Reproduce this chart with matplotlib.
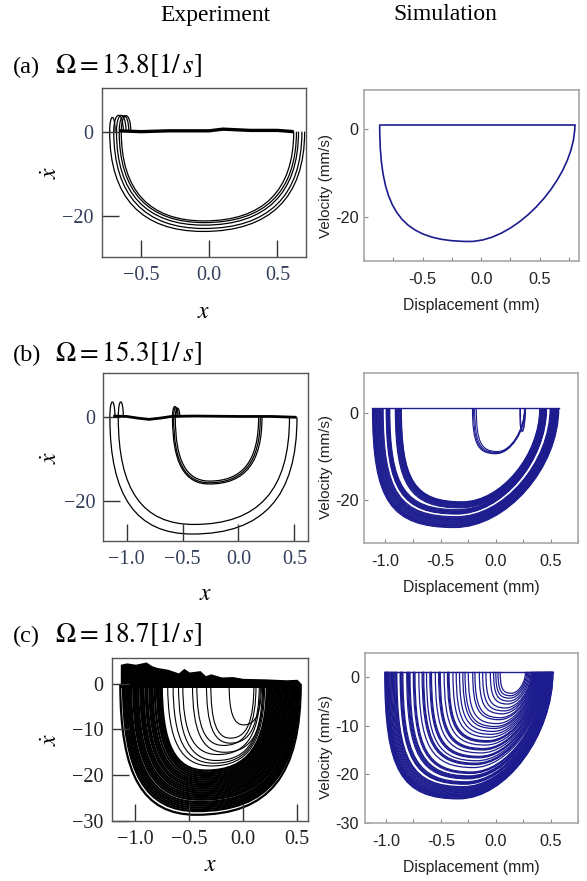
import numpy as np
import matplotlib.pyplot as plt
from matplotlib.path import Path
from matplotlib.patches import PathPatch

plt.rcParams["font.family"] = "serif"
plt.rcParams["font.serif"] = ["Liberation Serif", "DejaVu Serif"]
plt.rcParams["mathtext.fontset"] = "stix"

W, H = 587, 881
SIM_BLUE = "#1c1c8f"
SANS = "Liberation Sans"

# ---------------- data ----------------
# each loop: left end, right end, lowest velocity
# (a) experiment
exp_a_left = [-0.73, -0.70, -0.68, -0.66, -0.645]
exp_a_right = [0.70, 0.68, 0.655, 0.64, 0.62]
exp_a_bottom = [-23.7, -23.0, -22.2, -21.6, -21.2]
exp_a_bump_w = [0.04, 0.07, 0.07, 0.07, 0.07]
exp_a_bump_h = [3.4, 3.9, 3.9, 3.8, 3.8]
exp_a_stick_x = [-0.66, -0.5, -0.3, 0.0, 0.1, 0.3, 0.5, 0.62]
exp_a_stick_v = [0.2, 0.0, 0.2, 0.2, 0.6, 0.3, 0.3, 0.0]

# (a) simulation
sim_a_left = [-0.866]
sim_a_right = [0.80]
sim_a_bottom = [-25.4]
sim_a_top = 0.8

# (b) experiment
exp_b_left = [-1.15, -1.075, -0.59, -0.58, -0.565]
exp_b_right = [0.523, 0.456, 0.21, 0.195, 0.18]
exp_b_bottom = [-28.0, -25.7, -16.0, -15.7, -15.3]
exp_b_bump_w = [0.045, 0.045, 0.04, 0.04, 0.04]
exp_b_bump_h = [3.7, 3.7, 2.6, 2.4, 2.2]
exp_b_stick_x = [-1.12, -1.0, -0.9, -0.8, -0.7, -0.6, -0.4, 0.0, 0.3, 0.52]
exp_b_stick_v = [0.3, 0.2, -0.2, -0.5, -0.2, 0.2, 0.3, 0.2, 0.2, 0.0]

# (b) simulation
sim_b_left = [-1.117, -1.112, -1.108, -1.103, -1.098, -1.093, -1.088, -1.082, -1.077, -1.071,
              -1.066, -1.060, -1.055, -1.049, -1.044, -1.038, -1.032, -1.026, -1.02,
              -0.993, -0.989, -0.985, -0.981, -0.977, -0.972, -0.968, -0.964, -0.96,
              -0.91, -0.905, -0.90, -0.895, -0.89, -0.885, -0.88, -0.875, -0.87, -0.866, -0.862, -0.858, -0.855,
              -0.21, -0.20, -0.19, -0.175, 0.22, 0.225]
sim_b_right = [0.573, 0.569, 0.565, 0.561, 0.557, 0.553, 0.548, 0.544, 0.54, 0.536,
               0.531, 0.527, 0.522, 0.518, 0.513, 0.508, 0.503, 0.499, 0.494,
               0.462, 0.46, 0.457, 0.455, 0.452, 0.45, 0.447, 0.445, 0.442,
               0.435, 0.432, 0.43, 0.428, 0.425, 0.422, 0.418, 0.415, 0.412, 0.409, 0.406, 0.403, 0.40,
               0.27, 0.268, 0.265, 0.262, 0.27, 0.268]
sim_b_bottom = [-26.3, -26.15, -26.0, -25.9, -25.8, -25.65, -25.5, -25.35, -25.2, -25.05,
                -24.9, -24.75, -24.6, -24.5, -24.4, -24.25, -24.1, -23.95, -23.8,
                -23.2, -23.1, -23.0, -22.85, -22.7, -22.6, -22.5, -22.35, -22.2,
                -21.8, -21.65, -21.5, -21.4, -21.3, -21.15, -21.0, -20.9, -20.8, -20.7, -20.6, -20.5, -20.4,
                -9.4, -9.3, -9.1, -8.9, -4.3, -4.0]
sim_b_top = 1.0

# (c) experiment: dense outer mass, then thin inner loops
exp_c_left = [-1.14, -1.115, -1.10, -1.085, -1.07, -1.055, -1.04, -1.02, -1.005, -0.99,
              -0.975, -0.955, -0.94, -0.925, -0.905, -0.89, -0.87, -0.855, -0.84, -0.82,
              -0.80, -0.785, -0.77, -0.755]
exp_c_right = [0.535, 0.52, 0.51, 0.50, 0.49, 0.475, 0.465, 0.45, 0.44, 0.425,
               0.41, 0.40, 0.385, 0.37, 0.355, 0.34, 0.325, 0.31, 0.295, 0.28,
               0.265, 0.25, 0.235, 0.22]
exp_c_bottom = [-28.7, -27.9, -27.5, -27.1, -26.7, -26.3, -25.9, -25.4, -25.0, -24.6,
                -24.2, -23.8, -23.4, -23.0, -22.6, -22.2, -21.8, -21.4, -21.0, -20.6,
                -20.2, -19.8, -19.4, -19.0]
exp_c_in_left = [-0.70, -0.65, -0.60, -0.56, -0.47, -0.43, -0.34, -0.30, -0.13]
exp_c_in_right = [0.20, 0.19, 0.18, 0.16, 0.19, 0.12, 0.15, 0.10, 0.17]
exp_c_in_bottom = [-18.0, -17.4, -16.8, -15.5, -15.0, -13.5, -13.0, -11.9, -9.0]
exp_c_band_x = [-1.14, -1.08, -1.0, -0.9, -0.85, -0.8, -0.7, -0.6, -0.55, -0.5, -0.4, -0.35,
                -0.3, -0.2, -0.1, 0.0, 0.2, 0.4, 0.5, 0.53]
exp_c_band_top = [4.3, 4.6, 4.3, 4.8, 4.0, 3.6, 3.2, 2.4, 3.4, 2.6, 2.9, 1.8,
                  2.2, 1.5, 1.6, 1.2, 1.1, 0.9, 1.0, 0.3]
exp_c_band_bot = [-0.8] * 20

# (c) simulation
sim_c_left = [-1.01, -1.005, -1.00, -0.995, -0.99, -0.985, -0.98, -0.975, -0.97, -0.962,
              -0.955, -0.948, -0.94, -0.932, -0.925, -0.918, -0.91, -0.905, -0.90,
              -0.87, -0.865, -0.86, -0.852, -0.845, -0.81, -0.802, -0.795, -0.787, -0.78,
              -0.75, -0.742, -0.735, -0.70, -0.67, -0.662, -0.655, -0.63, -0.60, -0.592, -0.585,
              -0.55, -0.52, -0.512, -0.505, -0.47, -0.44, -0.432, -0.425, -0.39, -0.36,
              -0.33, -0.30, -0.28, -0.25, -0.21, -0.19, -0.15, -0.12, -0.09, -0.05,
              -0.02, 0.00, 0.02, 0.04]
sim_c_right = [0.52, 0.518, 0.515, 0.513, 0.51, 0.508, 0.505, 0.503, 0.50, 0.497,
               0.495, 0.492, 0.49, 0.487, 0.485, 0.482, 0.48, 0.477, 0.475,
               0.47, 0.467, 0.465, 0.462, 0.46, 0.455, 0.452, 0.45, 0.447, 0.445,
               0.44, 0.437, 0.435, 0.43, 0.425, 0.422, 0.42, 0.415, 0.41, 0.407, 0.405,
               0.40, 0.395, 0.392, 0.39, 0.385, 0.38, 0.377, 0.375, 0.37, 0.365,
               0.36, 0.355, 0.35, 0.345, 0.34, 0.335, 0.33, 0.325, 0.32, 0.31,
               0.30, 0.29, 0.28, 0.27]
sim_c_bottom = [-25.0, -24.9, -24.8, -24.65, -24.5, -24.4, -24.3, -24.15, -24.0, -23.85,
                -23.7, -23.55, -23.4, -23.25, -23.1, -22.95, -22.8, -22.65, -22.5,
                -22.0, -21.9, -21.8, -21.65, -21.5, -20.9, -20.75, -20.6, -20.45, -20.3,
                -19.8, -19.65, -19.5, -18.6, -18.0, -17.85, -17.7, -17.2, -16.6, -16.45, -16.3,
                -15.6, -15.0, -14.85, -14.7, -14.0, -13.4, -13.25, -13.1, -12.4, -11.8,
                -11.2, -10.6, -10.2, -9.6, -8.8, -8.4, -7.6, -7.0, -6.4, -5.6,
                -5.0, -4.4, -3.9, -3.4]
sim_c_top = 1.0


# ---------------- helpers ----------------
def axes_px(left, right, top, bottom):
    return fig.add_axes([left / W, 1 - bottom / H, (right - left) / W, (bottom - top) / H])


def loop(ax, L, R, B, top=0.0, frac=0.44, kl=0.72, kr=0.72, bump=None, **kw):
    """half-loop below the stick line, drawn as two cubic Bezier pieces"""
    xb = L + frac * (R - L)
    verts, codes = [], []
    if bump is not None:
        bw, bh = bump
        verts += [(L + bw, top), (L + bw, top + 1.33 * bh), (L, top + 1.33 * bh), (L, top)]
        codes += [Path.MOVETO, Path.CURVE4, Path.CURVE4, Path.CURVE4]
    else:
        verts.append((L, top))
        codes.append(Path.MOVETO)
    verts += [(L, top + kl * (B - top)), (xb - kl * (xb - L), B), (xb, B),
              (xb + kr * (R - xb), B), (R, top + kr * (B - top)), (R, top)]
    codes += [Path.CURVE4] * 6
    ax.add_patch(PathPatch(Path(verts, codes), fill=False, **kw))


def style_exp(ax, box, xlim, ylim, xticks, xlabels, yticks, ylabels, lab_col, xlab_top, ylab_right):
    left, right, top, bottom = box
    ax.set_xlim(*xlim)
    ax.set_ylim(*ylim)
    ax.set_xticks(xticks, xlabels)
    ax.set_yticks(yticks, ylabels)
    ax.tick_params(direction="in", length=12, width=1.0, color="#333333",
                   labelsize=14.5, labelcolor=lab_col)
    ax.tick_params(axis="y", pad=6)
    ax.tick_params(axis="x", pad=7)
    for s in ax.spines.values():
        s.set_color("#555555")
        s.set_linewidth(1.0)
    ax.set_xlabel(r"$x$", fontsize=17)
    ax.set_ylabel(r"$\dot{x}$", fontsize=17)
    ax.xaxis.set_label_coords(0.5, -(xlab_top - bottom) / (bottom - top))
    ax.yaxis.set_label_coords((ylab_right - left) / (right - left), 0.5)


def style_sim(ax, box, xlim, ylim, xticks, xlabels, yticks, ylabels, ylab_dy):
    left, right, top, bottom = box
    ax.set_xlim(*xlim)
    ax.set_ylim(*ylim)
    ax.set_xticks(xticks, xlabels, fontfamily=SANS)
    ax.set_yticks(yticks, ylabels, fontfamily=SANS)
    ax.set_xticks(np.arange(-1.0, 0.76, 0.25), minor=True)
    ax.tick_params(which="both", direction="in", length=3, width=0.8, color="#888888",
                   labelsize=11.7, labelcolor="#222222")
    ax.tick_params(axis="y", pad=4)
    ax.tick_params(axis="x", pad=8)
    for s in ax.spines.values():
        s.set_color("#a8a8a8")
        s.set_linewidth(1.2)
    ax.set_xlabel("Displacement (mm)", fontfamily=SANS, fontsize=11.3, color="#222222")
    ax.set_ylabel("Velocity (mm/s)", fontfamily=SANS, fontsize=11.0, color="#222222")
    ax.xaxis.set_label_coords(0.5, -37 / (bottom - top))
    ax.yaxis.set_label_coords((333 - left) / (right - left), 0.5 - ylab_dy / (bottom - top))


fig = plt.figure(figsize=(W / 100, H / 100), dpi=100)

# column titles and panel headings
fig.text(215 / W, 1 - 15 / H, "Experiment", ha="center", va="center", fontsize=17)
fig.text(445 / W, 1 - 15 / H, "Simulation", ha="center", va="center", fontsize=17)
for lab, om, base in [("(a)", "13.8", 73), ("(b)", "15.3", 361), ("(c)", "18.7", 642)]:
    fig.text(13 / W, 1 - base / H, lab, ha="left", va="baseline", fontsize=17.5)
    fig.text(55 / W, 1 - base / H, r"$\Omega = " + om + r"\left[1/\,s\right]$",
             ha="left", va="baseline", fontsize=19.5)

xt_a = [-0.5, 0.0, 0.5]
xt_bc = [-1.0, -0.5, 0.0, 0.5]

# ---------------- (a) ----------------
box = (101.5, 306.4, 88.3, 256.7)
ax = axes_px(*box)
ax.plot(exp_a_stick_x, exp_a_stick_v, color="black", lw=2.4, solid_capstyle="butt")
for L, R, B, bw, bh in zip(exp_a_left, exp_a_right, exp_a_bottom, exp_a_bump_w, exp_a_bump_h):
    loop(ax, L, R, B, frac=0.48, kl=0.66, kr=0.66, bump=(bw, bh), color="black", lw=0.9)
style_exp(ax, box, (-0.79, 0.713), (-29.7, 10.3), xt_a, ["\u22120.5", "0.0", "0.5"],
          [-20, 0], ["\u221220", "0"], "#34405a", 302, 62)

box = (364, 578.5, 90, 261)
ax = axes_px(*box)
for L, R, B in zip(sim_a_left, sim_a_right, sim_a_bottom):
    loop(ax, L, R, B, top=sim_a_top, frac=0.46, kl=0.75, kr=0.45, color=SIM_BLUE, lw=1.2)
ax.plot([min(sim_a_left), max(sim_a_right)], [sim_a_top, sim_a_top], color=SIM_BLUE, lw=1.2)
style_sim(ax, box, (-0.91, 0.831), (-29.8, 8.7), xt_a, ["-0.5", "0.0", "0.5"],
          [-20, 0], ["-20", "0"], 11)

# ---------------- (b) ----------------
box = (103.4, 307.5, 373.3, 540.7)
ax = axes_px(*box)
ax.plot(exp_b_stick_x, exp_b_stick_v, color="black", lw=2.0, solid_capstyle="butt")
for i, (L, R, B, bw, bh) in enumerate(zip(exp_b_left, exp_b_right, exp_b_bottom, exp_b_bump_w, exp_b_bump_h)):
    fr = 0.44 if i < 2 else 0.41
    loop(ax, L, R, B, frac=fr, kl=0.68, kr=0.68, bump=(bw, bh), color="black", lw=0.9)
style_exp(ax, box, (-1.208, 0.617), (-29.6, 10.55), xt_bc, ["\u22121.0", "\u22120.5", "0.0", "0.5"],
          [-20, 0], ["\u221220", "0"], "#34405a", 584, 62)

box = (364, 578.3, 372.7, 543.3)
ax = axes_px(*box)
for L, R, B in zip(sim_b_left, sim_b_right, sim_b_bottom):
    loop(ax, L, R, B, top=sim_b_top, frac=0.44, kl=0.78, kr=0.5, color=SIM_BLUE, lw=0.8)
ax.plot([min(sim_b_left), max(sim_b_right)], [sim_b_top, sim_b_top], color=SIM_BLUE, lw=1.0)
style_sim(ax, box, (-1.194, 0.592), (-29.9, 9.15), xt_bc, ["-1.0", "-0.5", "0.0", "0.5"],
          [-20, 0], ["-20", "0"], 9)

# ---------------- (c) ----------------
box = (112, 308.3, 658.3, 820.7)
ax = axes_px(*box)
ax.fill_between(exp_c_band_x, exp_c_band_bot, exp_c_band_top, color="black", lw=0)
for L, R, B in zip(exp_c_left, exp_c_right, exp_c_bottom):
    loop(ax, L, R, B, frac=0.42, kl=0.7, kr=0.7, color="black", lw=1.6)
for L, R, B in zip(exp_c_in_left, exp_c_in_right, exp_c_in_bottom):
    loop(ax, L, R, B, frac=0.45, kl=0.7, kr=0.7, color="black", lw=0.8)
style_exp(ax, box, (-1.217, 0.605), (-30, 5.6), xt_bc, ["\u22121.0", "\u22120.5", "0.0", "0.5"],
          [-30, -20, -10, 0], ["\u221230", "\u221220", "\u221210", "0"], "#222222", 855, 62)

box = (364.5, 578.3, 652.7, 823.3)
ax = axes_px(*box)
for L, R, B in zip(sim_c_left, sim_c_right, sim_c_bottom):
    loop(ax, L, R, B, top=sim_c_top, frac=0.44, kl=0.78, kr=0.5, color=SIM_BLUE, lw=0.9)
ax.plot([min(sim_c_left), max(sim_c_right)], [sim_c_top, sim_c_top], color=SIM_BLUE, lw=1.0)
style_sim(ax, box, (-1.194, 0.592), (-30, 4.9), xt_bc, ["-1.0", "-0.5", "0.0", "0.5"],
          [-30, -20, -10, 0], ["-30", "-20", "-10", "0"], 9)

fig.savefig("out.png", dpi=100)
